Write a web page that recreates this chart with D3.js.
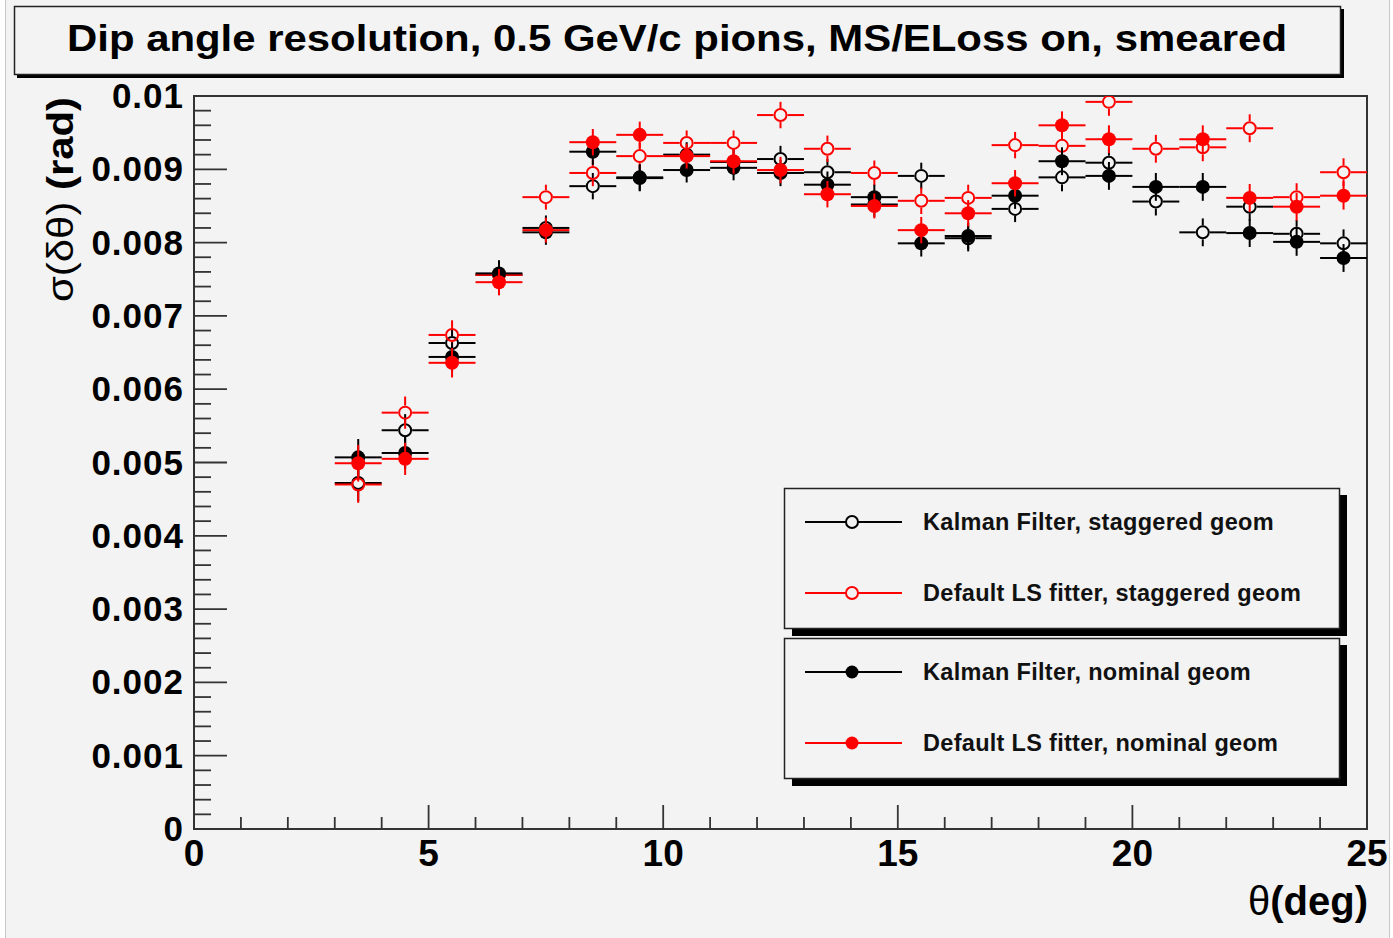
<!DOCTYPE html>
<html>
<head>
<meta charset="utf-8">
<script src="https://cdn.jsdelivr.net/npm/d3@7"></script>
<style>
  body { margin: 0; background: #ffffff; }
  svg { display: block; font-family: "Liberation Sans", Arial, sans-serif; }
</style>
</head>
<body>
<svg></svg>
<script>
// Bin centres (deg), 1 deg wide bins
const binCenters = [3.5, 4.5, 5.5, 6.5, 7.5, 8.5, 9.5, 10.5, 11.5, 12.5, 13.5,
  14.5, 15.5, 16.5, 17.5, 18.5, 19.5, 20.5, 21.5, 22.5, 23.5, 24.5];

// sigma(dtheta) in rad
const kfStaggered = [0.00472, 0.00544, 0.00663, 0.00756, 0.00820, 0.00877, 0.00888, 0.00920,
  0.00910, 0.00914, 0.00896, 0.00852, 0.00891, 0.00806, 0.00846, 0.00889, 0.00909, 0.00856,
  0.00814, 0.00849, 0.00812, 0.00799];
const lsStaggered = [0.00470, 0.00568, 0.00674, 0.00756, 0.00862, 0.00895, 0.00918, 0.00936,
  0.00936, 0.00974, 0.00928, 0.00895, 0.00857, 0.00861, 0.00933, 0.00932, 0.00992, 0.00928,
  0.00930, 0.00956, 0.00862, 0.00896];
const kfNominal = [0.00507, 0.00513, 0.00644, 0.00758, 0.00814, 0.00924, 0.00889, 0.00899,
  0.00902, 0.00895, 0.00879, 0.00862, 0.00799, 0.00809, 0.00864, 0.00911, 0.00891, 0.00876,
  0.00876, 0.00813, 0.00801, 0.00779];
const lsNominal = [0.00499, 0.00505, 0.00636, 0.00746, 0.00817, 0.00937, 0.00947, 0.00918,
  0.00911, 0.00899, 0.00866, 0.00850, 0.00817, 0.00840, 0.00881, 0.00960, 0.00941, null,
  0.00941, 0.00861, 0.00849, 0.00864];

// vertical errors, same for every series
const yErrors = [0.00025, 0.00022, 0.00020, 0.00018, 0.00017, 0.00018, 0.00018, 0.00017,
  0.00017, 0.00018, 0.00018, 0.00017, 0.00018, 0.00018, 0.00018, 0.00019, 0.00019, 0.00019,
  0.00019, 0.00019, 0.00019, 0.00019];

const seriesNames = ["Kalman Filter, staggered geom", "Default LS fitter, staggered geom",
  "Kalman Filter, nominal geom", "Default LS fitter, nominal geom"];
const xTicks = [0, 5, 10, 15, 20, 25];
const yTicks = [0, 0.001, 0.002, 0.003, 0.004, 0.005, 0.006, 0.007, 0.008, 0.009, 0.01];

const series = [
  { name: seriesNames[0], values: kfStaggered, color: "#000000", open: true },
  { name: seriesNames[1], values: lsStaggered, color: "#ff0000", open: true },
  { name: seriesNames[2], values: kfNominal, color: "#000000", open: false },
  { name: seriesNames[3], values: lsNominal, color: "#ff0000", open: false }
];

const width = 1393, height = 938;
const bg = "#f3f3f3";
const frame = { left: 194, right: 1367, top: 96, bottom: 829 };
const r = 7;

const svg = d3.select("svg").attr("width", width).attr("height", height);

// canvas
svg.append("rect").attr("x", 5.5).attr("y", -1).attr("width", 1384).attr("height", height + 2)
  .attr("fill", bg).attr("stroke", "#c8c8c8").attr("stroke-width", 1);

// title box
svg.append("rect").attr("x", 17).attr("y", 9).attr("width", 1327).attr("height", 69).attr("fill", "#000");
svg.append("rect").attr("x", 14.5).attr("y", 6.5).attr("width", 1326).attr("height", 68)
  .attr("fill", bg).attr("stroke", "#222").attr("stroke-width", 1.5);
svg.append("text").attr("x", 67).attr("y", 51)
  .attr("textLength", 1220).attr("lengthAdjust", "spacingAndGlyphs")
  .attr("font-size", 36).attr("font-weight", "bold").attr("fill", "#000")
  .text("Dip angle resolution, 0.5 GeV/c pions, MS/ELoss on, smeared");

const x = d3.scaleLinear().domain([0, 25]).range([frame.left, frame.right]);
const y = d3.scaleLinear().domain([0, 0.01]).range([frame.bottom, frame.top]);

// ticks
const axisColor = "#333";
const xMinor = d3.range(0, 25.01, 1);
svg.append("g").selectAll("line").data(xMinor).join("line")
  .attr("x1", d => x(d)).attr("x2", d => x(d))
  .attr("y1", frame.bottom).attr("y2", d => frame.bottom - (d % 5 === 0 ? 24 : 12))
  .attr("stroke", axisColor).attr("stroke-width", 1.8);
const yMinor = d3.range(0, 51).map(i => i * 0.0002);
svg.append("g").selectAll("line").data(yMinor).join("line")
  .attr("y1", d => y(d)).attr("y2", d => y(d))
  .attr("x1", frame.left).attr("x2", (d, i) => frame.left + (i % 5 === 0 ? 33 : 17))
  .attr("stroke", axisColor).attr("stroke-width", 1.8);

// frame
svg.append("rect").attr("x", frame.left).attr("y", frame.top)
  .attr("width", frame.right - frame.left).attr("height", frame.bottom - frame.top)
  .attr("fill", "none").attr("stroke", axisColor).attr("stroke-width", 2);

// tick labels
svg.append("g").selectAll("text").data(xTicks).join("text")
  .attr("x", d => x(d)).attr("y", 866).attr("text-anchor", "middle")
  .attr("font-size", 37).attr("font-weight", "bold").text(d => d);
svg.append("g").selectAll("text").data(yTicks).join("text")
  .attr("x", 184).attr("y", d => y(d) + 12).attr("text-anchor", "end")
  .attr("font-size", 35).attr("font-weight", "bold").attr("letter-spacing", 1)
  .text(d => d === 0 ? "0" : d3.format(".3~f")(d));

// axis titles
svg.append("text").attr("x", 1368).attr("y", 915).attr("text-anchor", "end")
  .attr("font-size", 40).attr("font-weight", "bold")
  .html('<tspan font-weight="normal">θ</tspan>(deg)');
svg.append("text").attr("transform", "translate(73,302) rotate(-90)")
  .attr("textLength", 205).attr("lengthAdjust", "spacingAndGlyphs")
  .attr("font-size", 37).attr("font-weight", "bold")
  .html('<tspan font-weight="normal">σ(δθ)</tspan> (rad)');

// points with error bars
svg.append("clipPath").attr("id", "plot").append("rect")
  .attr("x", frame.left).attr("y", frame.top)
  .attr("width", frame.right - frame.left).attr("height", frame.bottom - frame.top);
const plot = svg.append("g").attr("clip-path", "url(#plot)");

function drawMarker(g, cx, cy, s) {
  g.append("circle").attr("cx", cx).attr("cy", cy).attr("r", s.open ? r - 1 : r)
    .attr("fill", s.open ? "none" : s.color)
    .attr("stroke", s.color).attr("stroke-width", s.open ? 2 : 0);
}

series.forEach(s => {
  const pts = binCenters.map((c, i) => ({ c, v: s.values[i], e: yErrors[i] }))
    .filter(d => d.v !== null);
  const g = plot.append("g");
  pts.forEach(d => {
    const cx = x(d.c), cy = y(d.v);
    const gap = s.open ? r : 0;
    const segs = [
      [x(d.c - 0.5), cy, cx - gap, cy],
      [cx + gap, cy, x(d.c + 0.5), cy],
      [cx, y(d.v + d.e), cx, cy - gap],
      [cx, cy + gap, cx, y(d.v - d.e)]
    ];
    segs.forEach(sg => {
      g.append("line").attr("x1", sg[0]).attr("y1", sg[1]).attr("x2", sg[2]).attr("y2", sg[3])
        .attr("stroke", s.color).attr("stroke-width", 2);
    });
    drawMarker(g, cx, cy, s);
  });
});

// legend: two boxes, each with shadow
const legendBoxes = [
  { y: 488, items: [series[0], series[1]] },
  { y: 638, items: [series[2], series[3]] }
];
legendBoxes.forEach(b => {
  svg.append("rect").attr("x", 792).attr("y", b.y + 7).attr("width", 555).attr("height", 141).attr("fill", "#000");
  svg.append("rect").attr("x", 784.5).attr("y", b.y + 0.5).attr("width", 555).attr("height", 140)
    .attr("fill", bg).attr("stroke", "#222").attr("stroke-width", 1.5);
  b.items.forEach((s, i) => {
    const ly = b.y + 34 + i * 71;
    svg.append("line").attr("x1", 805).attr("x2", 902).attr("y1", ly).attr("y2", ly)
      .attr("stroke", s.color).attr("stroke-width", 1.8);
    svg.append("circle").attr("cx", 852).attr("cy", ly).attr("r", s.open ? 6 : 6.5)
      .attr("fill", s.open ? bg : s.color).attr("stroke", s.color).attr("stroke-width", s.open ? 2 : 0);
    svg.append("text").attr("x", 923).attr("y", ly + 8).attr("font-size", 23.5)
      .attr("letter-spacing", 0.3)
      .attr("font-weight", "bold").attr("fill", "#111").text(s.name);
  });
});
</script>
</body>
</html>
